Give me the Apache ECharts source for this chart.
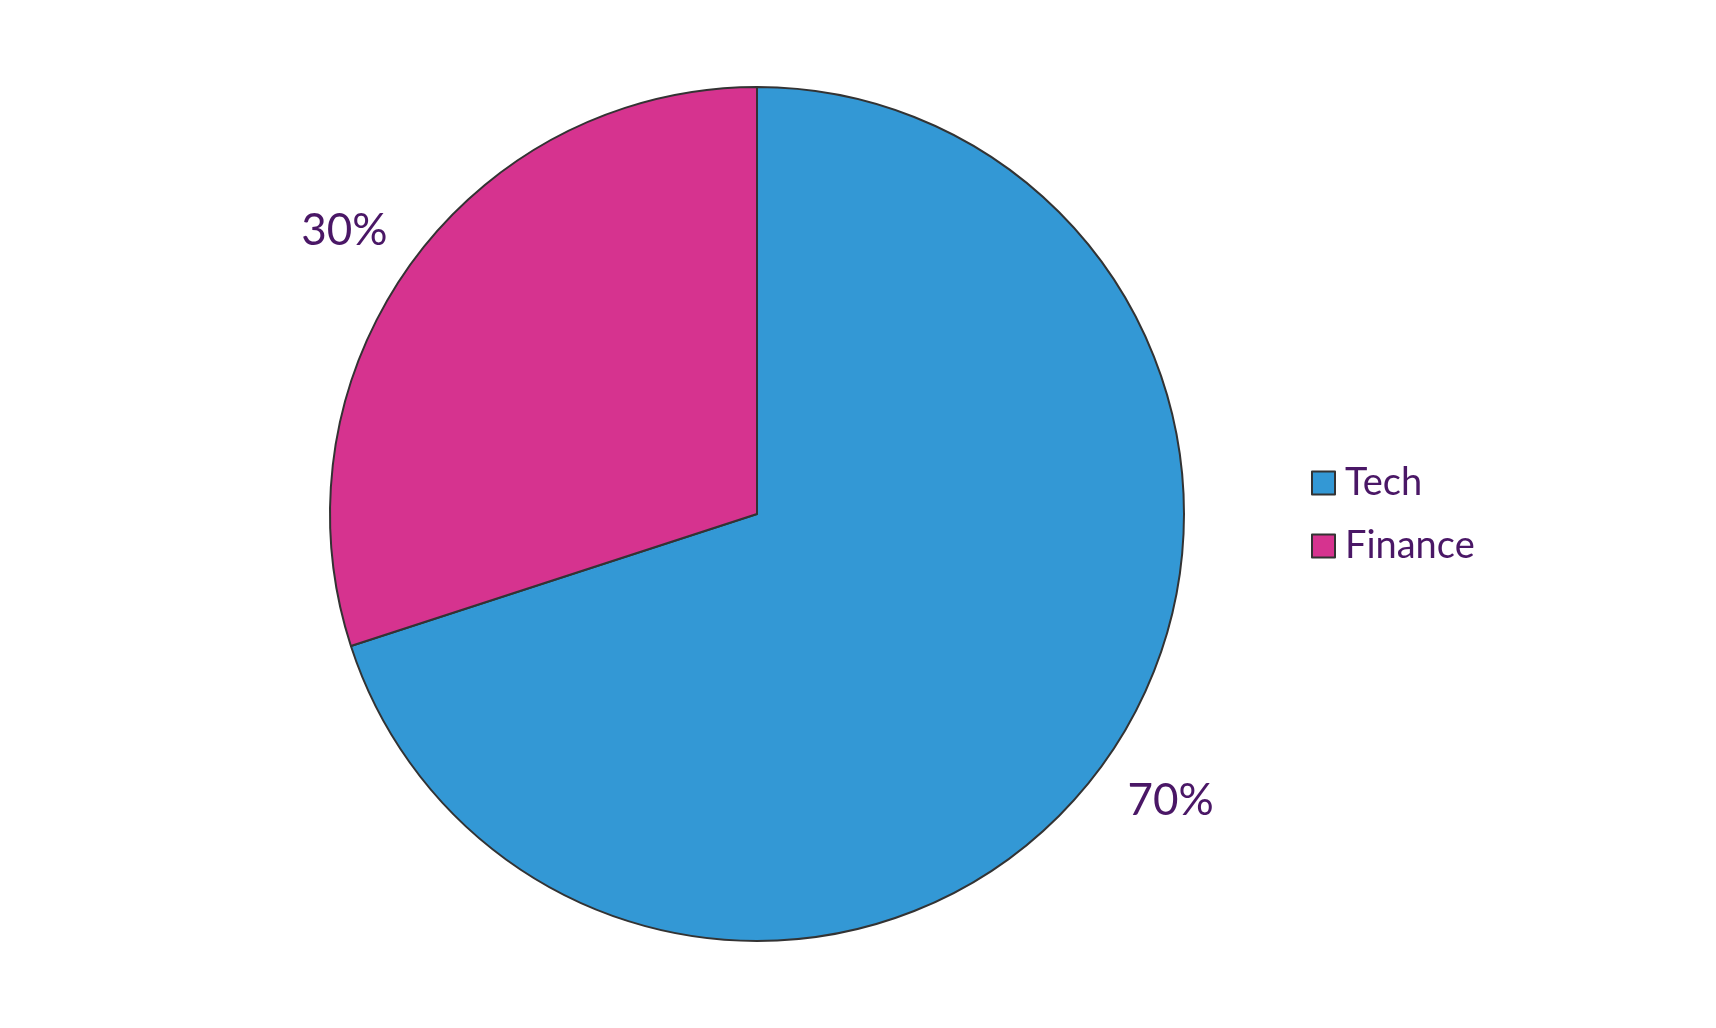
<!DOCTYPE html>
<html>
<head>
<meta charset="utf-8">
<script src="https://cdn.jsdelivr.net/npm/echarts@6/dist/echarts.min.js"></script>
<style>
html, body { margin: 0; padding: 0; background: #fff; }
#main { width: 1716px; height: 1028px; }
</style>
</head>
<body>
<div id="main"></div>
<script>
var categories = ['Tech', 'Finance'];
var shares = [70, 30];
var sliceColors = ['#3398D5', '#D6338F'];

var textColor = '#4A1766';
var fontName = 'Lato, "Open Sans", sans-serif';
var pieCenter = [757, 514];

var pieData = [];
var labelData = [];
for (var i = 0; i < categories.length; i++) {
	pieData.push({
		name : categories[i],
		value : shares[i],
		itemStyle : { color : sliceColors[i] }
	});
	// ring only used to place the percent labels a little outside the pie
	labelData.push({ name : categories[i], value : shares[i] });
}

var myChart = echarts.init(document.getElementById('main'), null, { renderer : 'canvas' });

var option = {
	backgroundColor : '#ffffff',
	animation : false,
	legend : {
		data : categories,
		orient : 'vertical',
		left : 1306,
		top : 459,
		itemWidth : 23,
		itemHeight : 23,
		itemGap : 25,
		icon : 'rect',
		itemStyle : { borderColor : '#333333', borderWidth : 2 },
		textStyle : { color : textColor, fontSize : 38, lineHeight : 38, fontFamily : fontName, padding : [0, 0, 0, 5] }
	},
	series : [ {
		name : 'share',
		type : 'pie',
		center : pieCenter,
		radius : 427,
		startAngle : 90,
		clockwise : true,
		data : pieData,
		itemStyle : { borderColor : '#333333', borderWidth : 2 },
		label : { show : false },
		labelLine : { show : false },
		emphasis : { disabled : true }
	}, {
		name : 'labels',
		type : 'pie',
		center : pieCenter,
		radius : [482, 522],
		startAngle : 90,
		clockwise : true,
		silent : true,
		data : labelData,
		itemStyle : { color : 'rgba(0,0,0,0)', borderWidth : 0 },
		label : {
			show : true,
			position : 'inside',
			formatter : '{d}%',
			color : textColor,
			fontSize : 44,
			fontFamily : fontName
		},
		labelLine : { show : false },
		// labels sit a bit flatter than the slice middle
		labelLayout : function(params) {
			var left = params.labelRect.x + params.labelRect.width / 2 < pieCenter[0];
			return { dy : left ? 14 : -10, dx : left ? -4 : 5 };
		},
		emphasis : { disabled : true }
	} ]
};

myChart.setOption(option);
</script>
</body>
</html>
